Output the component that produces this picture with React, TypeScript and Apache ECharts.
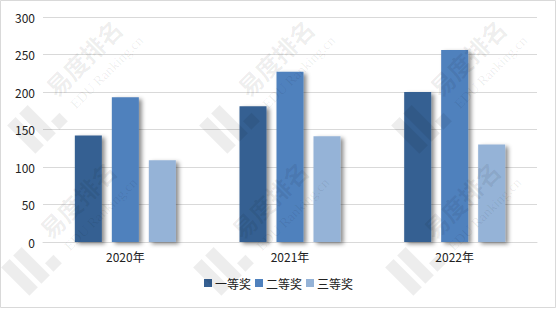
import React, { useEffect, useRef } from "react";
import * as echarts from "echarts";

const categories = ["2020年", "2021年", "2022年"];
const seriesNames = ["一等奖", "二等奖", "三等奖"];
const firstPrize = [142, 181, 200];
const secondPrize = [193, 227, 256];
const thirdPrize = [109, 141, 130];
const yTicks = [0, 50, 100, 150, 200, 250, 300];
const colors = ["#366092", "#4F81BD", "#95B3D7"];
const watermarkTitle = "易度排名";
const watermarkSub = "EDU Ranking.cn";

function watermarkUnit(x: number, y: number) {
  const fill = "rgba(0,0,0,0.07)";
  return {
    type: "group",
    x,
    y,
    rotation: Math.PI / 4,
    silent: true,
    z: 50,
    children: [
      { type: "rect", shape: { x: -54, y: -18, width: 12, height: 40 }, style: { fill }, z: 50 },
      { type: "rect", shape: { x: -37, y: -18, width: 12, height: 40 }, style: { fill }, z: 50 },
      { type: "rect", shape: { x: -20, y: 10, width: 12, height: 12 }, style: { fill }, z: 50 },
      {
        type: "text",
        x: 0,
        y: 0,
        z: 50,
        style: {
          text: watermarkTitle,
          fill,
          font: "bold 24px 'Noto Sans CJK SC', sans-serif",
          verticalAlign: "bottom",
          textVerticalAlign: "bottom",
        },
      },
      {
        type: "text",
        x: 6,
        y: 8,
        z: 50,
        style: {
          text: watermarkSub,
          fill,
          font: "14px 'Liberation Serif', serif",
          verticalAlign: "top",
          textVerticalAlign: "top",
        },
      },
    ],
  };
}

export default function App() {
  const ref = useRef<HTMLDivElement>(null);
  useEffect(() => {
    document.body.style.margin = "0";
    const chart = echarts.init(ref.current!, null, { renderer: "svg" });
    const font = "'Noto Sans CJK SC', 'Microsoft YaHei', sans-serif";
    const data = [firstPrize, secondPrize, thirdPrize];
    const marks: any[] = [];
    const rowsY = [100, 242];
    rowsY.forEach((y, j) => {
      for (let i = 0; i < 3; i++) {
        marks.push(watermarkUnit(58 + 192 * i - 6 * j, y));
      }
    });
    chart.setOption({
      animation: false,
      backgroundColor: "#ffffff",
      grid: { left: 43, right: 20, top: 17, bottom: 67, containLabel: false },
      legend: {
        data: seriesNames,
        bottom: 15,
        left: "center",
        itemWidth: 8,
        itemHeight: 8,
        itemGap: 4,
        icon: "rect",
        textStyle: { fontSize: 12, color: "#222", fontFamily: font, padding: [0, 0, 0, -2] },
      },
      xAxis: {
        type: "category",
        data: categories,
        axisLine: { lineStyle: { color: "#d9d9d9" } },
        axisTick: { show: false },
        axisLabel: { fontSize: 12, color: "#222", fontFamily: font, margin: 8 },
      },
      yAxis: {
        type: "value",
        min: yTicks[0],
        max: yTicks[yTicks.length - 1],
        interval: 50,
        axisLine: { show: false },
        axisTick: { show: false },
        splitLine: { lineStyle: { color: "#d9d9d9" } },
        axisLabel: { fontSize: 12, color: "#222", fontFamily: font, margin: 8 },
      },
      series: seriesNames.map((name, i) => ({
        name,
        type: "bar",
        data: data[i],
        barWidth: 27,
        barGap: "37%",
        itemStyle: {
          color: colors[i],
          shadowColor: "rgba(0,0,0,0.45)",
          shadowBlur: 4,
          shadowOffsetX: 3,
          shadowOffsetY: 2,
        },
      })),
      graphic: [
        ...marks,
        {
          type: "rect",
          shape: { x: 0.5, y: 0.5, width: 555, height: 307 },
          style: { fill: "none", stroke: "#d9d9d9", lineWidth: 1 },
          silent: true,
          z: 100,
        },
      ],
    });
    return () => chart.dispose();
  }, []);
  return <div ref={ref} style={{ width: 557, height: 309, overflow: "hidden" }} />;
}
